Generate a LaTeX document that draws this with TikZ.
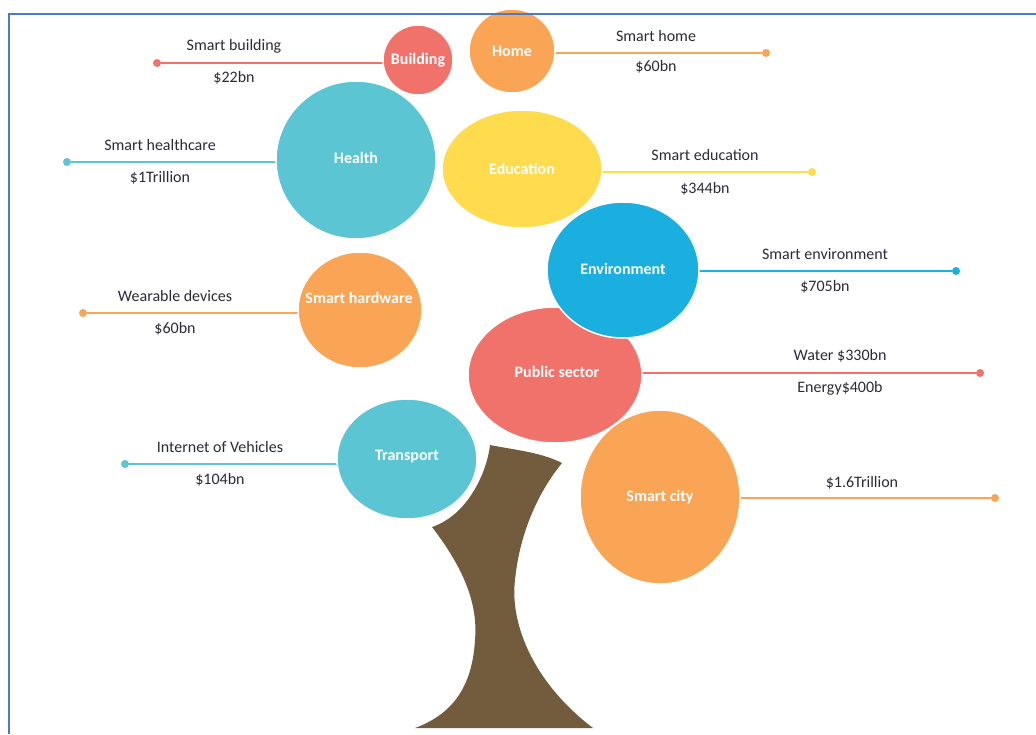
\documentclass[tikz,border=0pt]{standalone}
\usepackage{fontspec}
\setmainfont{Carlito}
\usetikzlibrary{shapes.geometric,backgrounds}
\definecolor{cRed}{HTML}{F1716B}
\definecolor{cOrange}{HTML}{F9A555}
\definecolor{cTeal}{HTML}{5BC5D3}
\definecolor{cYellow}{HTML}{FFDC4E}
\definecolor{cBlue}{HTML}{1BAFE0}
\definecolor{cTrunk}{HTML}{735C3E}
\definecolor{cBorder}{HTML}{4A7BC4}
\definecolor{cText}{HTML}{2A2A38}
\tikzset{
  bubble/.style={ellipse, fill=#1, draw=white, line width=1.5pt, inner sep=0pt},
  ctext/.style={text=white, font=\fontsize{16}{18}\selectfont\bfseries, inner sep=0pt},
  ltext/.style={text=cText, font=\fontsize{16}{18}\selectfont, inner sep=0pt},
  enddot/.style={circle, fill=#1, inner sep=0pt, minimum size=8pt},
  link/.style={draw=#1, line width=1.8pt},
}
\begin{document}
\begin{tikzpicture}[x=1pt,y=-1pt]
\useasboundingbox (0,0) rectangle (1036,734);
% trunk
\fill[cTrunk] (490,445) .. controls (515,450) and (540,452) .. (562,463)
  .. controls (540,490) and (520,530) .. (515,580)
  .. controls (510,620) and (530,680) .. (593,728)
  -- (415,728)
  .. controls (450,715) and (472,690) .. (475,640)
  .. controls (478,605) and (465,570) .. (432,527)
  .. controls (468,515) and (487,472) .. (490,445) -- cycle;
% bubbles
\node[bubble=cRed, minimum width=70pt, minimum height=70pt] (bld) at (418,60) {};
\node[ctext] (tbld) at (bld) {Building};
\node[bubble=cOrange, minimum width=86pt, minimum height=84pt] (home) at (512,51) {};
\node[ctext] (thome) at (home) {Home};
\node[bubble=cTeal, minimum width=160pt, minimum height=158pt] (hlth) at (356,160) {};
\node[ctext] (thlth) at (356,158) {Health};
\node[bubble=cYellow, minimum width=160pt, minimum height=118pt] (edu) at (522,169) {};
\node[ctext] (tedu) at (edu) {Education};
\node[bubble=cOrange, minimum width=124pt, minimum height=116pt] (hw) at (360,310) {};
\node[ctext] (thw) at (359,298) {Smart hardware};
\node[bubble=cRed, minimum width=174pt, minimum height=136pt] (pub) at (555,375) {};
\node[ctext] (tpub) at (557,372) {Public sector};
\node[bubble=cBlue, minimum width=152pt, minimum height=136pt] (env) at (623,270) {};
\node[ctext] (tenv) at (623,269) {Environment};
\node[bubble=cTeal, minimum width=140pt, minimum height=120pt] (trn) at (407,459) {};
\node[ctext] (ttrn) at (407,457) {Transport};
\node[bubble=cOrange, minimum width=160pt, minimum height=174pt] (city) at (660,497) {};
\node[ctext] (tcity) at (660,497) {Smart city};
% end dots
\node[enddot=cRed] (d1) at (157,63) {};
\node[enddot=cOrange] (d2) at (766,53) {};
\node[enddot=cTeal] (d3) at (67,162) {};
\node[enddot=cYellow] (d4) at (812,172) {};
\node[enddot=cBlue] (d5) at (956,271) {};
\node[enddot=cOrange] (d6) at (83,313) {};
\node[enddot=cRed] (d7) at (980,373) {};
\node[enddot=cTeal] (d8) at (125,464) {};
\node[enddot=cOrange] (d9) at (995,498) {};
% connectors
\begin{pgfonlayer}{background}
\draw[link=cRed] (d1) -- (d1 -| bld);
\draw[link=cOrange] (d2) -- (d2 -| home);
\draw[link=cTeal] (d3) -- (d3 -| hlth);
\draw[link=cYellow] (d4) -- (d4 -| edu);
\draw[link=cBlue] (d5) -- (d5 -| env);
\draw[link=cOrange] (d6) -- (d6 -| hw);
\draw[link=cRed] (d7) -- (d7 -| pub);
\draw[link=cTeal] (d8) -- (d8 -| trn);
\draw[link=cOrange] (d9) -- (d9 -| city);
\end{pgfonlayer}
% labels
\node[ltext] (l1a) at (234,46) {Smart building};
\node[ltext] (l1b) at (234,78) {\$22bn};
\node[ltext] (l2a) at (656,36) {Smart home};
\node[ltext] (l2b) at (656,67) {\$60bn};
\node[ltext] (l3a) at (160,145) {Smart healthcare};
\node[ltext] (l3b) at (160,178) {\$1Trillion};
\node[ltext] (l4a) at (705,155) {Smart education};
\node[ltext] (l4b) at (705,189) {\$344bn};
\node[ltext] (l5a) at (825,254) {Smart environment};
\node[ltext] (l5b) at (825,287) {\$705bn};
\node[ltext] (l6a) at (175,296) {Wearable devices};
\node[ltext] (l6b) at (175,329) {\$60bn};
\node[ltext] (l7a) at (840,356) {Water \$330bn};
\node[ltext] (l7b) at (840,388) {Energy\$400b};
\node[ltext] (l8a) at (220,447) {Internet of Vehicles};
\node[ltext] (l8b) at (220,480) {\$104bn};
\node[ltext] (l9a) at (862,483) {\$1.6Trillion};
% frame
\draw[cBorder, line width=2.5pt] (9,734) -- (9,14) -- (1036,14);
\end{tikzpicture}
\end{document}
